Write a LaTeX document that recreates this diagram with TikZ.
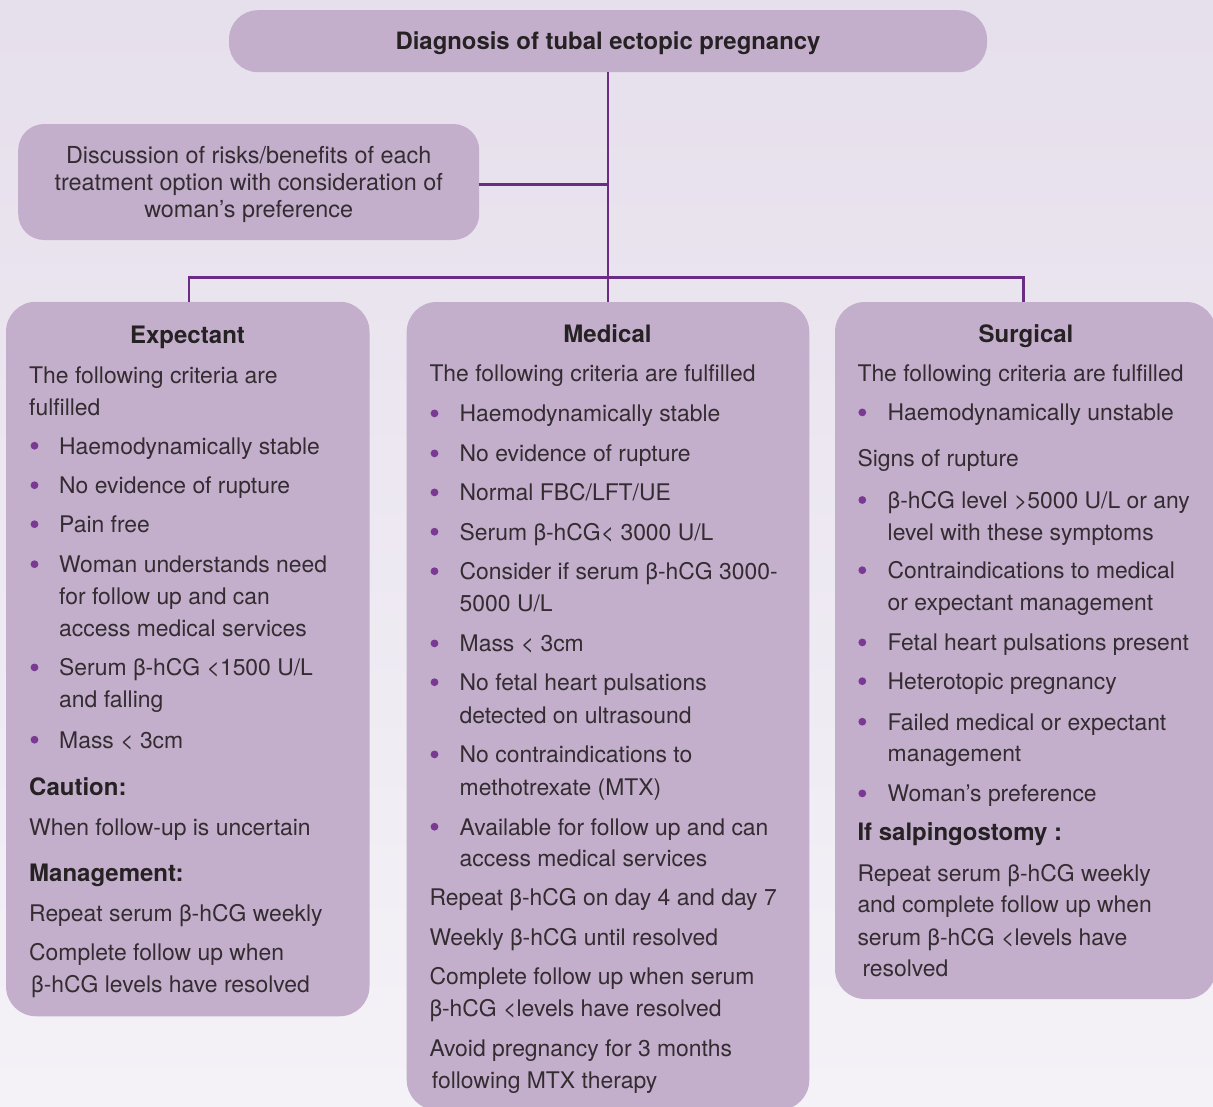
\documentclass[tikz,border=0pt]{standalone}
\usepackage{fontspec}
\setmainfont{TeX Gyre Heros}
\usetikzlibrary{calc}
\definecolor{bgtop}{HTML}{E6DFEC}
\definecolor{bgbot}{HTML}{F4F2F7}
\definecolor{boxfill}{HTML}{C3AFCC}
\definecolor{conncol}{HTML}{6B2C86}
\definecolor{bulcol}{HTML}{7A3A93}
\definecolor{txtcol}{HTML}{262123}
\definecolor{lighttxt}{HTML}{342C31}
\newcounter{tlc}
\newcommand{\txtline}[3]{\stepcounter{tlc}\node[lineText] (t\arabic{tlc}) at (#1,#2) {#3};}
\newcommand{\boldline}[3]{\stepcounter{tlc}\node[lineBold] (t\arabic{tlc}) at (#1,#2) {#3};}
\newcommand{\headline}[3]{\stepcounter{tlc}\node[lineHead] (t\arabic{tlc}) at (#1,#2) {#3};}
% bullet: #1 bullet x, #2 text x, #3 baseline y, #4 text
\newcommand{\bulline}[4]{\stepcounter{tlc}\node[bulDot] (b\arabic{tlc}) at (#1,#3-8.3) {};\node[lineText] (t\arabic{tlc}) at (#2,#3) {#4};}
\tikzset{
  panel/.style={rectangle, rounded corners=30pt, fill=boxfill, draw=none, inner sep=0pt},
  conn/.style={draw=conncol, line width=2.7pt},
  lineText/.style={anchor=base west, inner sep=0pt, text=lighttxt, font=\fontsize{22.9}{28}\selectfont},
  lineBold/.style={anchor=base west, inner sep=0pt, text=txtcol, font=\fontsize{24}{28}\selectfont\bfseries},
  lineHead/.style={anchor=base, inner sep=0pt, text=txtcol, font=\fontsize{24}{28}\selectfont\bfseries},
  bulDot/.style={circle, fill=bulcol, minimum size=7.8pt, inner sep=0pt, draw=none}
}
\begin{document}
\begin{tikzpicture}[x=1pt,y=-1pt]
\useasboundingbox (0,0) rectangle (1213,1106);
\clip (0,0) rectangle (1213,1106);
\shade[top color=bgtop, bottom color=bgbot] (0,0) rectangle (1213,1106);

% boxes
\node[panel, rounded corners=29pt, minimum width=758pt, minimum height=62pt,
  text height=17pt, text depth=0pt,
  text=txtcol, font=\fontsize{23.9}{28}\selectfont\bfseries] (title) at (608,41.2) {Diagnosis of tubal ectopic pregnancy};
\node[panel, rounded corners=26pt, minimum width=461pt, minimum height=116pt, text depth=0pt,
  text=lighttxt, align=center, font=\fontsize{23.4}{26.7}\selectfont] (disc) at (248.7,182)
  {Discussion of risks/benefits of each\\treatment option with consideration of\\woman’s preference};
\node[panel, minimum width=363.5pt, minimum height=714.5pt] (exp) at (187.75,659) {};
\node[panel, minimum width=402.6pt, minimum height=808pt] (med) at (608,706) {};
\node[panel, minimum width=381pt, minimum height=697pt] (sur) at (1025.5,650.5) {};

% connectors
\coordinate (j1) at (607.7,184.3);
\coordinate (jl) at (189,277.7);
\coordinate (jr) at (1023.3,277.7);
\draw[conn] (title.south) -- (med.north);
\draw[conn] (disc.east |- j1) -- (j1);
\draw[conn] (jl |- exp.north) -- (jl) -- (jr) -- (jr |- sur.north);

% Expectant
\headline{187.5}{343}{Expectant}
\txtline{29}{383}{The following criteria are}
\txtline{29}{415}{fulfilled}
\bulline{34.5}{59}{454}{Haemodynamically stable}
\bulline{34.5}{59}{493.5}{No evidence of rupture}
\bulline{34.5}{59}{532.5}{Pain free}
\bulline{34.5}{59}{572.5}{Woman understands need}
\txtline{59}{604.5}{for follow up and can}
\txtline{59}{636.5}{access medical services}
\bulline{34.5}{59}{675.7}{Serum β-hCG <1500 U/L}
\txtline{59}{707.7}{and falling}
\bulline{34.5}{59}{748}{Mass < 3cm}
\boldline{29}{795}{Caution:}
\txtline{29}{835}{When follow-up is uncertain}
\boldline{29}{881.7}{Management:}
\txtline{29}{921.7}{Repeat serum β-hCG weekly}
\txtline{29}{960.7}{Complete follow up when}
\txtline{31}{992.7}{β-hCG levels have resolved}

% Medical
\headline{607.5}{342.7}{Medical}
\txtline{429.3}{381.7}{The following criteria are fulfilled}
\bulline{434.5}{459.5}{421.7}{Haemodynamically stable}
\bulline{434.5}{459.5}{461.7}{No evidence of rupture}
\bulline{434.5}{459.5}{500.7}{Normal FBC/LFT/UE}
\bulline{434.5}{459.5}{540}{Serum β-hCG< 3000 U/L}
\bulline{434.5}{459.5}{579.5}{Consider if serum β-hCG 3000-}
\txtline{459.5}{611.7}{5000 U/L}
\bulline{434.5}{459.5}{651.7}{Mass < 3cm}
\bulline{434.5}{459.5}{690.5}{No fetal heart pulsations}
\txtline{459.5}{723}{detected on ultrasound}
\bulline{434.5}{459.5}{762.7}{No contraindications to}
\txtline{459.5}{795}{methotrexate (MTX)}
\bulline{434.5}{459.5}{835}{Available for follow up and can}
\txtline{459.5}{866.5}{access medical services}
\txtline{429.3}{905.5}{Repeat β-hCG on day 4 and day 7}
\txtline{429.3}{945}{Weekly β-hCG until resolved}
\txtline{429.3}{984}{Complete follow up when serum}
\txtline{429.3}{1016}{β-hCG <levels have resolved}
\txtline{429.3}{1056}{Avoid pregnancy for 3 months}
\txtline{431.7}{1088.3}{following MTX therapy}

% Surgical
\headline{1026}{342.7}{Surgical}
\txtline{857.3}{381}{The following criteria are fulfilled}
\bulline{862.3}{887.5}{420.7}{Haemodynamically unstable}
\txtline{857.3}{466.7}{Signs of rupture}
\bulline{862.3}{887.5}{508.3}{β-hCG level >5000 U/L or any}
\txtline{887.5}{540}{level with these symptoms}
\bulline{862.3}{887.5}{578.5}{Contraindications to medical}
\txtline{887.5}{610.7}{or expectant management}
\bulline{862.3}{887.5}{650.7}{Fetal heart pulsations present}
\bulline{862.3}{887.5}{689.5}{Heterotopic pregnancy}
\bulline{862.3}{887.5}{730}{Failed medical or expectant}
\txtline{887.5}{761.7}{management}
\bulline{862.3}{887.5}{801.7}{Woman’s preference}
\boldline{857.3}{840.7}{If salpingostomy :}
\txtline{857.3}{881.7}{Repeat serum β-hCG weekly}
\txtline{857.3}{912.7}{and complete follow up when}
\txtline{857.3}{945}{serum β-hCG <levels have}
\txtline{862.3}{976.7}{resolved}
\end{tikzpicture}
\end{document}
